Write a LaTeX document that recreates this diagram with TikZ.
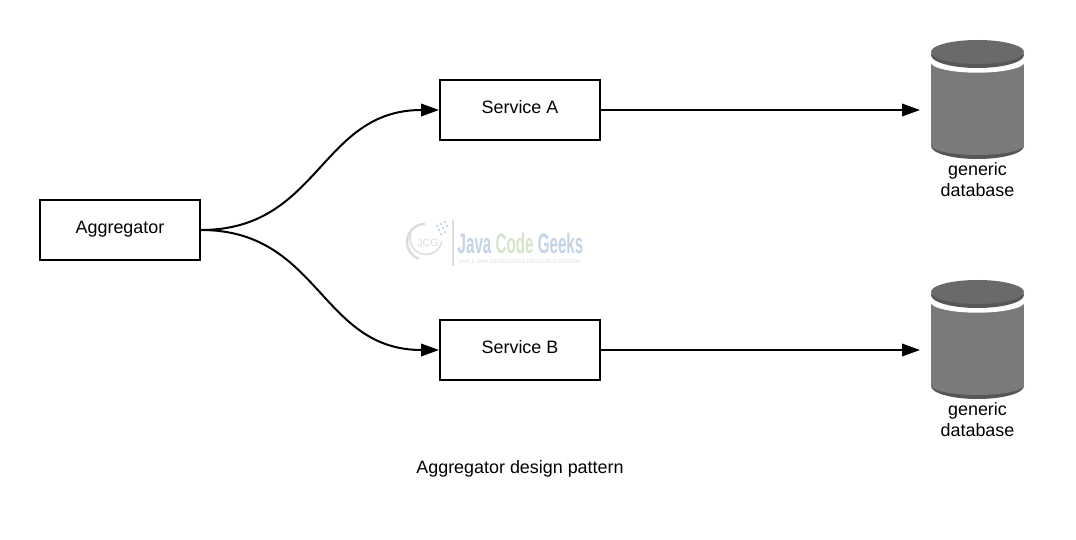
\documentclass[tikz,border=0pt]{standalone}
\usepackage{fontspec}
\setmainfont{Liberation Sans}
\usetikzlibrary{arrows.meta}

\definecolor{dbbody}{HTML}{7A7A7A}
\definecolor{dbtop}{HTML}{6A6A6A}
\definecolor{dbrim}{HTML}{575757}
\definecolor{wmblue}{HTML}{C4D4E8}
\definecolor{wmgreen}{HTML}{D6E4CC}
\definecolor{wmgray}{HTML}{DADDE0}

\tikzset{
  box/.style={draw,line width=0.04cm,minimum width=3.2cm,minimum height=1.2cm,inner sep=0pt,text height=0.26cm,text depth=0.1cm},
  link/.style={line width=0.04cm,-{Triangle[length=0.36cm,width=0.25cm]}}
}

\begin{document}
\begin{tikzpicture}[x=0.02cm,y=-0.02cm, every node/.style={font=\fontsize{10.2}{11.9}\selectfont}]
  \useasboundingbox (0,0) rectangle (1076,540);

  \draw[wmgray,line width=0.03cm] (453,220) -- (453,266);
  \draw[wmgray,line width=0.05cm] (425,224) arc (-90:-250:18);
  \draw[wmgray,line width=0.03cm] (411,233) arc (200:10:16);
  \node[wmgray,font=\fontsize{6}{7}\selectfont] (wmlogo) at (428,243) {JCG};
  \foreach \x/\y in {437/226,441/224,445/222,439/230,443/228,447/226,441/234,445/232}{
    \fill[wmblue] (\x,\y) circle (1.3);
  }
  \node[font=\bfseries\fontsize{16}{18}\selectfont,xscale=0.54,transform shape,inner sep=0pt] (wmtitle) at (520.5,243) {\textcolor{wmblue}{Java} \textcolor{wmgreen}{Code} \textcolor{wmblue}{Geeks}};
  \node[wmgray,font=\fontsize{3}{4}\selectfont,inner sep=0pt] (wmsub) at (519,261.5) {JAVA 2 JAVA DEVELOPERS RESOURCE CENTER};

  \node[box] (aggregator) at (120,230) {Aggregator};

  \foreach \y/\name in {110/A,350/B}{
    \node[box] (service\name) at (520,\y) {Service \name};
    \coordinate (db\name) at (920,\y);
    \draw[link] (aggregator.east) .. controls (320,230) and (320,\y) .. (service\name.west);
    \draw[link] (service\name.east) -- (db\name);
    \begin{scope}[shift={(0,\y)}]
      \fill[dbrim] (931,0) rectangle (1024,36);
      \fill[dbrim] (977.5,36) ellipse (46.5 and 13);
      \fill[dbbody] (931,-48) rectangle (1024,35);
      \fill[dbbody] (977.5,35) ellipse (46.5 and 10);
      \fill[white] (977.5,-48) ellipse (47 and 10.7);
      \fill[dbrim] (977.5,-55) ellipse (46.5 and 13);
      \fill[dbtop] (977.5,-58) ellipse (46.5 and 12);
    \end{scope}
    \node[align=center] (label\name) at (977.5,\y+69.5) {generic\\database};
  }

  \node (caption) at (520,469) {Aggregator design pattern};
\end{tikzpicture}
\end{document}
